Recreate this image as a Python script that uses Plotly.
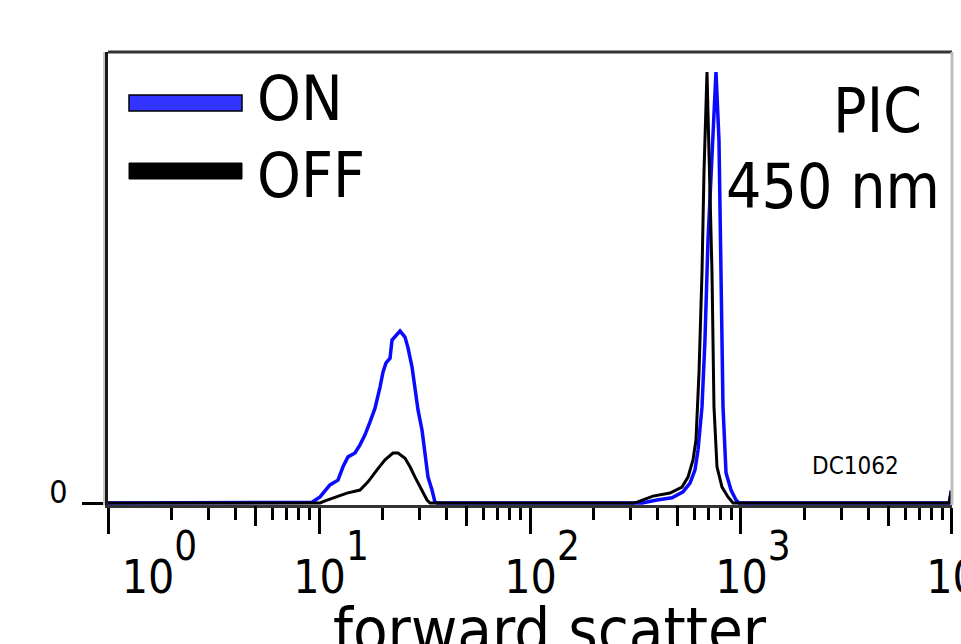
import plotly.graph_objects as go

# ---- data ----
on_x = [1, 9.0, 9.26, 10.11, 11.27, 12.30, 12.99, 13.72, 14.81, 15.64, 16.52, 17.45, 18.43, 19.46,
        20.11, 20.78, 21.71, 22.18, 22.92, 24.21, 25.56, 26.41, 27.59, 28.51, 29.46, 30.78, 31.80,
        32.86, 34.32, 35.45, 36.5, 340, 399.8, 471.0, 531.2, 573.3, 605.4, 625.6, 653.4, 675.0,
        697.6, 736.7, 761.2, 786.5, 804.0, 821.8, 849.1, 896.9, 947.0, 978.3, 9700, 9900, 10000]
on_y = [0, 0, 0.2, 1.4, 4.2, 5.3, 8.4, 10.7, 11.6, 13.5, 15.8, 18.8, 22.0, 26.9,
        30.4, 32.5, 33.6, 37.8, 38.5, 39.9, 38.5, 36.0, 31.6, 26.9, 21.6, 16.9, 11.6,
        6.0, 3.0, 0.2, 0, 0, 0.7, 1.2, 2.6, 4.6, 7.7, 12.3, 22.3, 37.8,
        61.0, 84.2, 100, 84.2, 53.4, 22.3, 7.0, 3.0, 0.7, 0, 0, 2.5, 2.5]

off_x = [1, 10.11, 10.68, 11.91, 13.57, 15.64, 17.07, 18.83, 20.55, 22.42, 23.68, 25.56, 27.00,
         28.51, 30.11, 32.50, 33.59, 310, 321.5, 382.7, 460.9, 525.4, 560.8, 592.3, 611.9, 632.3,
         653.4, 667.7, 690.0, 728.8, 744.7, 769.6, 812.8, 867.8, 916.6, 9700, 9900, 10000]
off_y = [0, 0, 0.5, 1.4, 2.3, 3.0, 4.9, 7.7, 10.0, 11.6, 11.6, 10.4, 8.4,
         6.0, 3.7, 0.7, 0, 0, 0.2, 1.6, 2.3, 3.7, 6.0, 10.0, 14.6, 30.2,
         53.4, 76.6, 100, 53.4, 22.3, 8.4, 3.7, 1.4, 0, 0, 2.5, 2.5]

series_names = ["ON", "OFF"]
series_colors = ["#0a0aff", "#000000"]

major_vals = [1, 10, 100, 1000, 10000]
major_exps = ["0", "1", "2", "3", "4"]
mid_vals = [5, 50, 500, 5000]
minor_vals = [m * 10 ** d for d in range(4) for m in (2, 3, 4, 6, 7, 8, 9)]

y_ticks = [0]
y_ticktext = ["0"]

x_title = "forward scatter"
label_lines = ["PIC", "450 nm"]
sample_id = "DC1062"

FONT = "DejaVu Sans Condensed, DejaVu Sans, sans-serif"
NB = "\u00a0"

major_text = []
for i, e in enumerate(major_exps):
    lead = NB * 6 if i == 0 else ""
    major_text.append(lead + '10<sup><sup><span style="font-size:40px">%s</span></sup></sup>' % e)

fig = go.Figure()
fig.add_trace(go.Scatter(x=on_x, y=on_y, mode="lines", name=series_names[0],
                         line=dict(color=series_colors[0], width=3.5), showlegend=False))
fig.add_trace(go.Scatter(x=off_x, y=off_y, mode="lines", name=series_names[1],
                         line=dict(color=series_colors[1], width=3), showlegend=False))
# invisible trace to carry the secondary tick axis (half-decade ticks)
fig.add_trace(go.Scatter(x=[], y=[], xaxis="x2", showlegend=False, hoverinfo="skip"))

W, H = 961, 644
L, R, T, B = 108, 9, 52, 139
pw, ph = W - L - R, H - T - B


def px(x):
    return (x - L) / pw


def py(y):
    return (H - B - y) / ph


shapes = [
    # frame
    dict(type="line", xref="paper", yref="paper", x0=0, x1=1, y0=1, y1=1,
         line=dict(color="#333333", width=3)),
    dict(type="line", xref="paper", yref="paper", x0=1, x1=1, y0=0, y1=1,
         line=dict(color="#bdbdbd", width=3)),
    dict(type="line", xref="paper", yref="paper", x0=px(104), x1=px(104), y0=0, y1=1,
         line=dict(color="#c8c8c8", width=2)),
    # legend keys
    dict(type="rect", xref="paper", yref="paper", x0=px(129), x1=px(242), y0=py(111), y1=py(95),
         fillcolor="#3333ff", line=dict(color="black", width=1.5)),
    dict(type="rect", xref="paper", yref="paper", x0=px(129), x1=px(242), y0=py(179), y1=py(163),
         fillcolor="black", line=dict(color="black", width=1)),
]

annotations = [
    dict(text=series_names[0], x=px(255), y=py(99), xanchor="left", yanchor="middle"),
    dict(text=series_names[1], x=px(255), y=py(175), xanchor="left", yanchor="middle"),
    dict(text=label_lines[0], x=px(924), y=py(110), xanchor="right", yanchor="middle"),
    dict(text=label_lines[1], x=px(942), y=py(187), xanchor="right", yanchor="middle"),
    dict(text=sample_id, x=px(855), y=py(466), xanchor="center", yanchor="middle",
         font=dict(size=24, color="black", family=FONT)),
    dict(text=x_title, x=px(550), y=py(592), xanchor="center", yanchor="top",
         font=dict(size=63, color="black", family=FONT)),
]
for a in annotations:
    a.setdefault("font", dict(size=62, color="black", family=FONT))
    a.update(xref="paper", yref="paper", showarrow=False)

fig.update_layout(
    width=W, height=H,
    margin=dict(l=L, r=R, t=T, b=B, pad=0, autoexpand=False),
    paper_bgcolor="white", plot_bgcolor="white",
    font=dict(family=FONT, color="black"),
    shapes=shapes, annotations=annotations,
    xaxis=dict(type="log", range=[-0.0001, 4.0001], tickmode="array", tickvals=major_vals,
               ticktext=major_text, automargin=False, ticklabeloverflow="allow",
               ticks="outside", ticklen=26, tickwidth=3, tickcolor="black",
               showline=True, linecolor="#333333", linewidth=3, showgrid=False, zeroline=False,
               tickfont=dict(size=46, color="black", family=FONT), ticklabelshift=12,
               ticklabelstandoff=4,
               minor=dict(tickmode="array", tickvals=minor_vals, ticks="outside", ticklen=12,
                          tickwidth=3, tickcolor="black", showgrid=False)),
    xaxis2=dict(type="log", range=[-0.0001, 4.0001], overlaying="x", anchor="y", side="bottom",
                tickmode="array", tickvals=mid_vals, ticks="outside", ticklen=20, tickwidth=3,
                tickcolor="black", showticklabels=False, showgrid=False, showline=False,
                zeroline=False, automargin=False),
    yaxis=dict(range=[-0.464, 104.64], tickmode="array", tickvals=y_ticks, ticktext=y_ticktext,
               ticks="outside", ticklen=23, tickwidth=3, tickcolor="black", automargin=False,
               showline=True, linecolor="#1a1a1a", linewidth=3, showgrid=False, zeroline=False,
               tickfont=dict(size=32, color="black", family=FONT), ticklabelshift=-11,
               ticklabelstandoff=8),
)

fig.write_html("out.html", config={"displayModeBar": False},
               post_script="document.body.style.margin='0';")
